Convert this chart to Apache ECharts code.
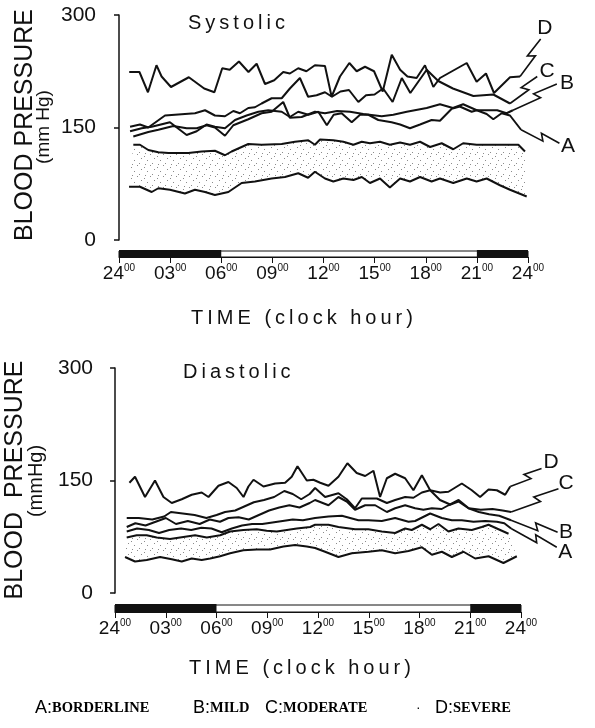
<!DOCTYPE html>
<html>
<head>
<meta charset="utf-8">
<title>Blood pressure - 24 hour profile</title>
<script src="https://cdn.jsdelivr.net/npm/echarts@6/dist/echarts.min.js"></script>
<style>
html, body { margin: 0; padding: 0; background: #fff; }
#main { width: 595px; height: 728px; }
</style>
</head>
<body>
<div id="main"></div>
<script>
// time bar
var hourTicks = ['24', '03', '06', '09', '12', '15', '18', '21', '24'];
var nightSpans = [[0, 6], [21, 24]];

// systolic, [clock hour, mmHg]
var sysD = [[0.6,224],[1.2,224],[1.7,197],[2.2,233],[2.5,218],[3.05,204],[4.1,217],[5.0,202],[5.6,197],[6.06,229],[6.5,227],[7.04,238],[7.6,224],[8.08,235],[8.57,208],[9.11,213],[9.64,224],[10.03,222],[10.52,229],[11.0,225],[11.5,233],[12.09,232],[12.48,191],[12.97,218],[13.52,236],[13.95,225],[14.44,231],[14.97,225],[15.48,198],[16.01,247],[16.5,227],[16.93,218],[17.47,216],[17.96,233],[18.45,204],[18.84,216],[20.41,236],[20.99,211],[21.54,222],[22.01,196],[22.95,217],[23.54,218]];
var sysC = [[0.65,151],[1.23,154],[1.72,150],[2.7,166],[3.87,168],[4.46,169],[5.05,173],[5.63,166],[6.22,165],[6.71,172],[7.1,169],[7.59,176],[7.98,177],[8.37,182],[8.96,189],[9.55,189],[10.03,202],[10.62,216],[11.1,191],[11.6,193],[12.09,197],[12.5,191],[13.0,198],[13.5,200],[14.05,184],[14.5,193],[15.0,194],[15.5,202],[16.06,184],[16.6,216],[17.1,196],[18.06,227],[18.74,212],[19.6,202],[20.8,192],[21.97,194],[22.95,182]];
var sysB = [[0.84,138],[1.72,144],[2.31,147],[3.19,152],[3.97,149],[4.56,149],[5.14,153],[5.63,150],[6.22,139],[6.71,153],[7.59,161],[8.37,169],[8.96,171],[9.64,184],[10.03,163],[10.72,164],[11.5,171],[12.09,169],[12.8,172],[13.56,171],[14.34,168],[15.42,165],[16.1,167],[16.89,171],[18.06,176],[18.84,181],[19.6,176],[20.2,181],[21.0,173],[22.2,173],[22.75,169],[23.12,173]];
var sysA = [[0.65,145],[1.33,149],[1.92,151],[2.99,157],[3.97,140],[4.56,145],[5.14,154],[5.63,151],[6.22,149],[6.81,160],[7.49,166],[8.18,171],[8.76,173],[9.55,171],[10.03,164],[10.52,171],[11.11,167],[11.7,171],[12.2,153],[12.6,167],[13.07,169],[13.66,157],[14.15,167],[14.64,167],[15.22,160],[16.0,157],[16.5,154],[17.08,149],[17.67,154],[18.35,160],[18.84,159],[19.53,175],[20.0,178],[20.7,171],[21.0,173],[21.58,168],[21.97,161],[22.46,169],[22.95,166],[23.6,147]];
// normal range (shaded)
var sysUpper = [[0.84,127],[1.23,127],[1.72,120],[2.31,117],[2.9,116],[4.07,116],[4.85,118],[5.63,119],[6.22,113],[6.61,118],[7.59,128],[8.37,127],[9.55,128],[10.33,131],[11.11,133],[11.5,127],[11.8,134],[12.58,133],[13.17,131],[13.76,127],[14.25,131],[14.73,129],[15.32,131],[15.9,127],[16.5,130],[17.08,127],[17.67,131],[18.26,124],[18.94,129],[19.62,121],[20.2,129],[20.99,127],[21.58,127],[22.36,127],[23.44,127],[23.83,118]];
var sysLower = [[0.59,71],[1.23,71],[1.92,64],[2.31,69],[2.99,67],[3.87,62],[4.46,67],[5.05,64],[5.63,60],[6.42,64],[7.2,76],[7.98,78],[8.96,82],[9.74,84],[10.52,89],[11.1,83],[11.5,91],[12.09,82],[12.58,78],[13.17,82],[13.76,80],[14.25,84],[14.73,76],[15.32,82],[15.9,70],[16.5,82],[17.08,78],[17.67,84],[18.35,78],[18.84,82],[19.62,76],[20.41,82],[20.99,78],[21.58,82],[22.36,73],[22.95,67],[23.93,58]];

// diastolic, [clock hour, mmHg]
var diaD = [[0.85,147],[1.18,155],[1.77,128],[2.36,150],[2.86,128],[3.35,120],[3.94,125],[4.53,131],[5.12,134],[5.52,128],[6.11,143],[6.7,148],[7.19,140],[7.59,128],[7.88,142],[8.18,151],[8.77,142],[9.46,146],[10.05,147],[10.44,155],[10.78,169],[11.33,150],[11.72,151],[12.12,147],[12.61,143],[13.2,155],[13.73,173],[14.28,160],[14.78,156],[15.27,163],[15.66,128],[16.06,153],[16.55,159],[17.14,153],[17.63,137],[18.13,157],[18.62,137],[19.21,134],[19.7,135],[20.49,146],[21.08,137],[21.57,128],[22.07,138],[22.56,137],[23.05,131],[23.35,142]];
var diaC = [[0.69,100],[1.4,100],[2.2,98],[2.9,102],[3.3,108],[4.0,106],[4.7,104],[5.4,100],[6.0,104],[6.5,108],[7.1,110],[7.6,115],[8.2,121],[8.8,124],[9.4,128],[10.0,136],[10.5,132],[11.0,125],[11.5,132],[11.82,140],[12.41,128],[13.2,133],[13.69,125],[14.18,113],[14.58,126],[15.47,126],[16.06,120],[16.55,124],[17.14,128],[17.63,127],[18.13,134],[18.62,137],[19.2,124],[19.8,118],[20.3,124],[20.9,113],[21.6,111],[22.3,112],[22.9,110],[23.4,108]];
var diaB = [[0.69,88],[1.2,93],[1.8,90],[2.4,95],[3.0,100],[3.6,92],[4.3,96],[5.0,92],[5.6,98],[6.2,95],[6.7,100],[7.3,101],[7.9,98],[8.5,104],[9.1,110],[9.7,114],[10.3,117],[10.9,114],[11.5,120],[11.82,124],[12.61,117],[13.2,128],[13.69,122],[14.18,111],[14.78,117],[15.37,117],[16.06,108],[16.55,113],[17.14,117],[17.73,113],[18.22,111],[18.72,113],[19.3,112],[19.7,117],[20.29,122],[20.88,113],[21.5,108],[22.1,105],[22.7,103],[23.4,97]];
var diaA = [[0.69,82],[1.3,86],[2.0,84],[2.6,80],[3.2,84],[3.9,86],[4.5,84],[5.1,87],[5.7,86],[6.3,81],[6.9,86],[7.5,90],[8.1,92],[8.7,92],[9.3,94],[9.9,96],[10.5,98],[11.1,97],[11.82,100],[12.61,102],[13.4,103],[14.38,97],[14.97,97],[15.76,96],[16.55,100],[17.34,95],[17.73,96],[18.62,106],[19.31,100],[19.9,97],[20.49,97],[21.18,95],[21.87,96],[22.56,95],[23.0,93],[23.4,86]];
var diaUpper = [[0.69,74],[1.28,77],[1.87,77],[2.46,74],[3.25,72],[3.84,74],[4.73,77],[5.42,74],[6.21,77],[6.8,82],[7.58,84],[8.37,85],[8.96,83],[9.56,82],[10.15,84],[10.74,86],[11.53,88],[11.82,91],[12.61,91],[13.2,88],[14.18,85],[14.97,85],[15.76,82],[16.55,80],[17.14,86],[17.53,84],[18.13,91],[18.62,85],[19.11,92],[19.7,82],[20.29,86],[21.08,84],[21.67,88],[22.07,91],[22.56,86],[23.25,79]];
var diaLower = [[0.59,48],[1.18,42],[1.87,44],[2.66,48],[3.35,45],[3.94,42],[4.53,46],[5.12,44],[5.62,46],[6.21,49],[6.8,53],[7.58,57],[8.37,58],[9.16,58],[9.95,62],[10.64,64],[11.33,62],[11.82,60],[12.41,55],[13.2,48],[13.99,53],[14.97,55],[15.76,57],[16.55,53],[17.34,56],[18.13,61],[18.72,51],[19.31,55],[19.9,48],[20.59,55],[21.28,46],[22.07,49],[22.95,40],[23.74,49]];

// group labels with their leader lines (data coordinates)
var sysLeaders = [
    {name: 'D', from: [23.54, 218], to: [24.75, 268], at: [25.0, 283]},
    {name: 'C', from: [22.95, 182], to: [24.55, 218], at: [25.12, 225]},
    {name: 'B', from: [23.12, 173], to: [25.7, 208], at: [26.3, 209]},
    {name: 'A', from: [23.6, 147], to: [25.85, 129], at: [26.35, 125]}
];
var diaLeaders = [
    {name: 'D', from: [23.35, 142], to: [25.2, 166], at: [25.77, 175]},
    {name: 'C', from: [23.4, 108], to: [26.2, 139], at: [26.65, 147]},
    {name: 'B', from: [23.4, 97], to: [26.15, 81], at: [26.65, 81]},
    {name: 'A', from: [23.4, 86], to: [26.1, 61], at: [26.6, 55]}
];

var ink = '#111';
var FONT = '"Liberation Sans", Arial, sans-serif';

// stipple tile for the shaded normal band
var dotTile = document.createElement('canvas');
dotTile.width = 13; dotTile.height = 11;
(function () {
    var g = dotTile.getContext('2d');
    g.fillStyle = '#8c8c8c';
    [[1, 2], [7, 0], [4, 6], [11, 4], [9, 9], [2, 10]].forEach(function (d) {
        g.fillRect(d[0], d[1], 1, 1);
    });
})();

function spaced(s) {
    return s.split('').join('\u2009');
}

function yAxisCfg(gi) {
    return {
        type: 'value', gridIndex: gi, min: 0, max: 300, interval: 150,
        axisLine: {show: true, lineStyle: {color: ink, width: 1.5}},
        axisTick: {show: true, length: 5, lineStyle: {color: ink, width: 1.5}},
        axisLabel: {color: ink, fontSize: 21, fontFamily: FONT, margin: 8},
        splitLine: {show: false}
    };
}
function timeAxisCfg(gi) {
    return {
        type: 'value', gridIndex: gi, min: 0, max: 24, interval: 3,
        axisLine: {show: true, lineStyle: {color: ink, width: 1}},
        axisTick: {show: true, length: 6, lineStyle: {color: ink, width: 1}},
        splitLine: {show: false},
        axisLabel: {
            margin: 6, showMinLabel: true, showMaxLabel: true,
            formatter: function (v) {
                return '{h|' + hourTicks[Math.round(v / 3)] + '}{m|00}';
            },
            rich: {
                h: {fontSize: 19, fontFamily: FONT, color: ink, lineHeight: 22},
                m: {fontSize: 10, fontFamily: FONT, color: ink, lineHeight: 12, verticalAlign: 'top'}
            }
        }
    };
}
// data grids start left of hour 0 so the y axis sits apart from the time bar
function hiddenX(gi, lead) {
    return {type: 'value', gridIndex: gi, min: -lead, max: 27, show: false};
}
function barY(gi) {
    return {type: 'value', gridIndex: gi, min: 0, max: 1, show: false};
}
function curve(data, gi) {
    return {
        type: 'line', xAxisIndex: gi, yAxisIndex: gi, data: data, symbol: 'none',
        lineStyle: {color: ink, width: 2}, silent: true, z: 3
    };
}
function band(upper, lower, gi) {
    return {
        type: 'custom', xAxisIndex: gi, yAxisIndex: gi, silent: true, z: 1,
        data: [[0, 0]],
        renderItem: function (params, api) {
            var pts = upper.concat(lower.slice().reverse()).map(function (p) {
                return api.coord(p);
            });
            return {type: 'polygon', shape: {points: pts},
                style: {fill: {image: dotTile, repeat: 'repeat'}, stroke: null}};
        }
    };
}
function nightBar(gi) {
    return {
        type: 'custom', xAxisIndex: gi, yAxisIndex: gi, silent: true,
        data: nightSpans,
        renderItem: function (params, api) {
            var p0 = api.coord([api.value(0), 1]);
            var p1 = api.coord([api.value(1), 0]);
            return {type: 'rect', shape: {x: p0[0], y: p0[1] - 1, width: p1[0] - p0[0], height: p1[1] - p0[1] + 1},
                style: {fill: ink}};
        }
    };
}
function leaderSeries(list, gi) {
    return {
        type: 'custom', xAxisIndex: gi, yAxisIndex: gi, silent: true, z: 4,
        data: list.map(function (l) { return l.from; }),
        renderItem: function (params, api) {
            var l = list[params.dataIndex];
            var s = api.coord(l.from), e = api.coord(l.to), t = api.coord(l.at);
            var dx = e[0] - s[0], dy = e[1] - s[1];
            var len = Math.sqrt(dx * dx + dy * dy);
            var ux = dx / len, uy = dy / len, nx = -uy, ny = ux;
            var mx = s[0] + dx * 0.55, my = s[1] + dy * 0.55;
            var z1 = [mx + ux * 2 + nx * 3.5, my + uy * 2 + ny * 3.5];
            var z2 = [mx - ux * 2 - nx * 3.5, my - uy * 2 - ny * 3.5];
            return {
                type: 'group',
                children: [
                    {type: 'polyline', shape: {points: [s, z1, z2, e]},
                        style: {stroke: ink, lineWidth: 1.6, fill: null}},
                    {type: 'text', style: {text: l.name, x: t[0], y: t[1], fill: ink,
                        font: '21px ' + FONT, align: 'center', verticalAlign: 'middle'}}
                ]
            };
        }
    };
}
function vText(str, x, y, size) {
    return {type: 'text', x: x, y: y, rotation: Math.PI / 2,
        style: {text: str, fill: ink, font: size + 'px ' + FONT, align: 'center', verticalAlign: 'middle'}};
}
function hText(str, x, y, size, align) {
    return {type: 'text', x: x, y: y,
        style: {text: str, fill: ink, font: size + 'px ' + FONT, align: align || 'left', verticalAlign: 'middle'}};
}
function legendText(letter, word, x) {
    return {type: 'text', x: x, y: 708,
        style: {
            text: '{l|' + letter + ':}{w|' + word + '}', verticalAlign: 'middle',
            rich: {
                l: {fontSize: 18, fontFamily: FONT, color: ink},
                w: {fontSize: 14.5, fontFamily: '"Liberation Serif", "DejaVu Serif", serif', fontWeight: 'bold', color: ink}
            }
        }};
}

var chart = echarts.init(document.getElementById('main'));

var option = {
    animation: false,
    backgroundColor: '#fff',
    grid: [
        {left: 104, top: 15, width: 475, height: 225},
        {left: 119, top: 251, width: 409, height: 6, show: true, borderColor: ink, borderWidth: 1},
        {left: 101, top: 368, width: 471, height: 225},
        {left: 115, top: 605, width: 406, height: 7, show: true, borderColor: ink, borderWidth: 1}
    ],
    xAxis: [hiddenX(0, 0.88), timeAxisCfg(1), hiddenX(2, 0.83), timeAxisCfg(3)],
    yAxis: [yAxisCfg(0), barY(1), yAxisCfg(2), barY(3)],
    graphic: [
        hText(spaced('Systolic'), 188, 23, 20),
        hText(spaced('Diastolic'), 183, 372, 20),
        hText(spaced('TIME (clock hour)'), 302, 318, 20, 'center'),
        hText(spaced('TIME (clock hour)'), 300, 668, 20, 'center'),
        vText('BLOOD PRESSURE', 25, 125, 25),
        vText('(mm Hg)', 44, 127, 19),
        vText('BLOOD  PRESSURE', 15, 480, 25),
        vText('(mmHg)', 36, 481, 20),
        legendText('A', 'BORDERLINE', 35),
        legendText('B', 'MILD', 193),
        legendText('C', 'MODERATE', 265),
        hText('\u00b7', 416, 708, 14),
        legendText('D', 'SEVERE', 435)
    ],
    series: [
        band(sysUpper, sysLower, 0),
        curve(sysUpper, 0), curve(sysLower, 0),
        curve(sysA, 0), curve(sysB, 0), curve(sysC, 0), curve(sysD, 0),
        leaderSeries(sysLeaders, 0),
        nightBar(1),
        band(diaUpper, diaLower, 2),
        curve(diaUpper, 2), curve(diaLower, 2),
        curve(diaA, 2), curve(diaB, 2), curve(diaC, 2), curve(diaD, 2),
        leaderSeries(diaLeaders, 2),
        nightBar(3)
    ]
};
chart.setOption(option);
</script>
</body>
</html>
